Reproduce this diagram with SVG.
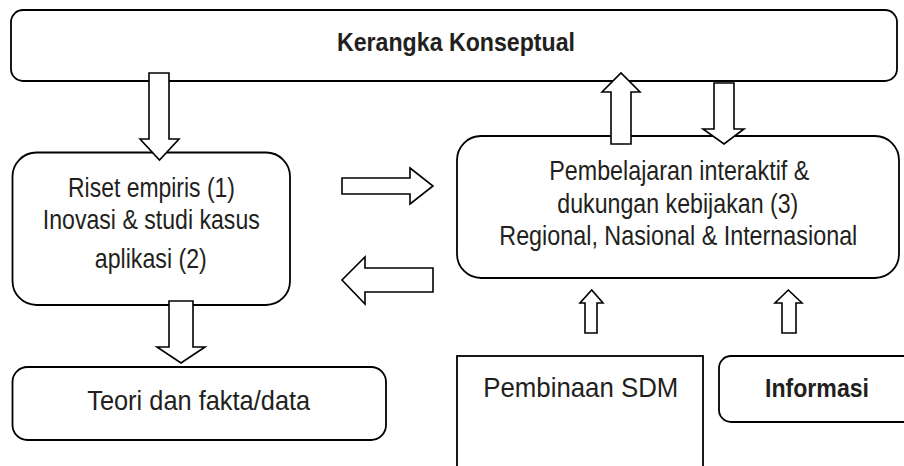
<svg xmlns="http://www.w3.org/2000/svg" width="904" height="466" viewBox="0 0 904 466">
<style>
.box{fill:#fff;stroke:#000;stroke-width:1.8}
.arr{fill:#fff;stroke:#000;stroke-width:1.6;stroke-linejoin:miter}
.t{font-family:"Liberation Sans",Arial,sans-serif;font-size:27.5px;fill:#231f20;text-anchor:middle}
.b{font-weight:bold;font-size:26px}
</style>
<rect width="904" height="466" fill="#fff"/>
<g id="node-kerangka">
<rect class="box" x="11" y="10" width="886" height="71" rx="12"/>
<text class="t b" x="456" y="51" textLength="238" lengthAdjust="spacingAndGlyphs">Kerangka Konseptual</text>
</g>
<g id="node-riset">
<rect class="box" x="12.5" y="152.5" width="277.5" height="152.5" rx="24"/>
<text class="t" x="151.5" y="196.7" textLength="167" lengthAdjust="spacingAndGlyphs">Riset empiris (1)</text>
<text class="t" x="151.3" y="229.3" textLength="217" lengthAdjust="spacingAndGlyphs">Inovasi &amp; studi kasus</text>
<text class="t" x="150.8" y="268" textLength="112" lengthAdjust="spacingAndGlyphs">aplikasi (2)</text>
</g>
<g id="node-pembelajaran">
<rect class="box" x="457" y="136" width="442" height="142" rx="24"/>
<text class="t" x="679.3" y="180" textLength="260" lengthAdjust="spacingAndGlyphs">Pembelajaran interaktif &amp;</text>
<text class="t" x="677.8" y="213.3" textLength="241" lengthAdjust="spacingAndGlyphs">dukungan kebijakan (3)</text>
<text class="t" x="678.3" y="245" textLength="358" lengthAdjust="spacingAndGlyphs">Regional, Nasional &amp; Internasional</text>
</g>
<g id="node-teori">
<rect class="box" x="12.5" y="367" width="373.5" height="73" rx="15"/>
<text class="t" x="198.7" y="410" textLength="223" lengthAdjust="spacingAndGlyphs">Teori dan fakta/data</text>
</g>
<g id="node-sdm">
<rect class="box" x="457" y="356" width="246" height="140"/>
<text class="t" x="580.8" y="396.7" textLength="195" lengthAdjust="spacingAndGlyphs">Pembinaan SDM</text>
</g>
<g id="node-informasi">
<rect class="box" x="719" y="356" width="200" height="66" rx="12"/>
<text class="t b" x="817" y="396.7" textLength="104" lengthAdjust="spacingAndGlyphs">Informasi</text>
</g>
<g id="connectors">
<polygon class="arr" points="149,73 169,73 169,139 179,139 159.5,160 140,139 149,139"/>
<polygon class="arr" points="342,178 410,178 410,168 433,186 410,204 410,194 342,194"/>
<polygon class="arr" points="433,268 365,268 365,257 342,280 365,304 365,292 433,292"/>
<polygon class="arr" points="611,144 611,92 602,92 621,73 640,92 631,92 631,144"/>
<polygon class="arr" points="714,83 734,83 734,129 744,129 724,144 703,129 714,129"/>
<polygon class="arr" points="169,301 193,301 193,347 205,347 181,363 157,347 169,347"/>
<polygon class="arr" points="585,333 585,303 580,303 591.7,290 603,303 597,303 597,333"/>
<polygon class="arr" points="782,333 782,303 775,303 788.3,290 802,303 796,303 796,333"/>
</g>
</svg>
